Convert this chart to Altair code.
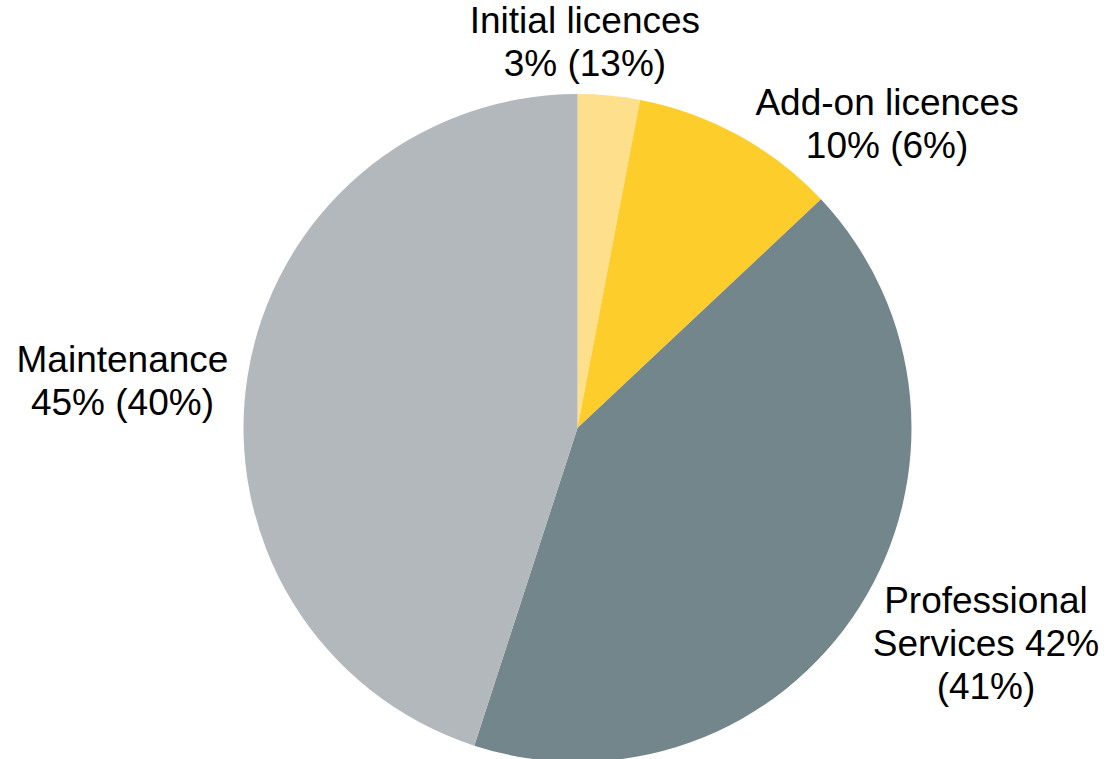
import altair as alt
import pandas as pd

categories = ["Initial licences", "Add-on licences", "Professional Services", "Maintenance"]
shares = [3, 10, 42, 45]
label_texts = [
    "Initial licences\n3% (13%)",
    "Add-on licences\n10% (6%)",
    "Professional\nServices 42%\n(41%)",
    "Maintenance\n45% (40%)",
]
colors = ["#FEDF8B", "#FDCD2B", "#72868B", "#B3B8BC"]
# label placement of the first text line (angle in % of circle, distance from centre in px)
label_angle = [0.29, 12.14, 31.41, 77.34]
label_radius = [406, 448, 444, 460]

df = pd.DataFrame({
    "category": categories,
    "share": shares,
    "idx": list(range(len(categories))),
    "label": label_texts,
    "langle": label_angle,
    "lrad": label_radius,
})

base = alt.Chart(df)

pie = base.mark_arc(outerRadius=334, stroke=None).encode(
    theta=alt.Theta("share:Q", stack=True),
    order=alt.Order("idx:Q"),
    color=alt.Color("category:N", scale=alt.Scale(domain=categories, range=colors), legend=None),
)

labels = base.mark_text(
    font="Liberation Sans", fontSize=37, lineHeight=43, lineBreak="\n",
    align="center", baseline="middle", color="#000000",
).encode(
    theta=alt.Theta("langle:Q", stack=None, scale=alt.Scale(domain=[0, 100], range=[0, 6.283185307179586])),
    radius=alt.Radius("lrad:Q", scale=None),
    text="label:N",
)

chart = alt.layer(pie, labels).properties(
    width=1059, height=662,
    padding={"left": 48, "top": 97, "right": 0, "bottom": 0},
    autosize=alt.AutoSizeParams(type="none"),
).configure_view(stroke=None)

chart.save("out.html", embed_options={"renderer": "svg", "actions": False})
